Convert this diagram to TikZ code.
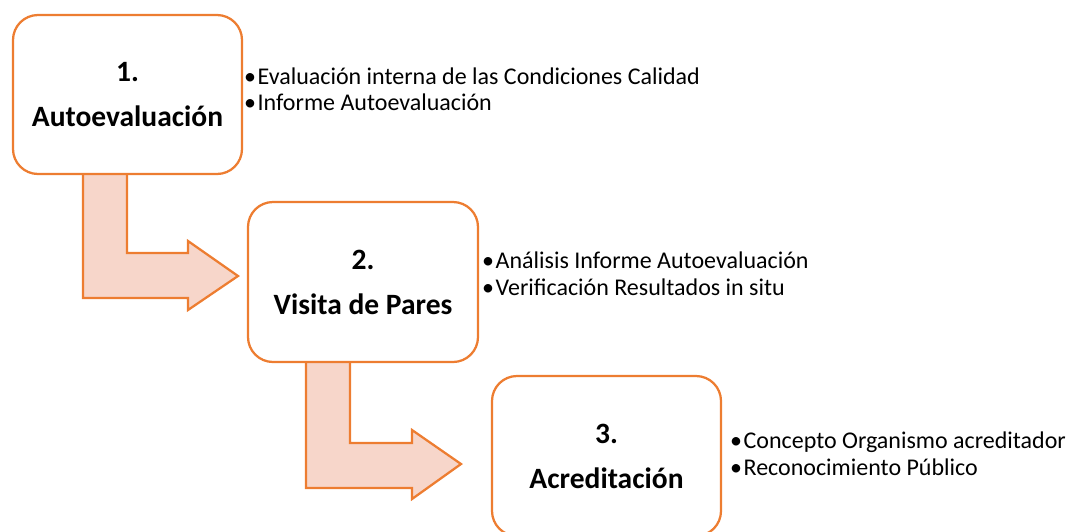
\documentclass[tikz,border=0pt]{standalone}
\usepackage{fontspec}
\setmainfont{Carlito}
\definecolor{acc}{RGB}{237,125,49}
\definecolor{arrfill}{RGB}{247,214,202}
\newcommand{\bul}{•\hspace{1.5pt}}
\begin{document}
\begin{tikzpicture}[x=1pt,y=-1pt,
  stepbox/.style={draw=acc, line width=2.25pt, fill=white, rounded corners=25pt,
    align=center, font=\fontsize{29.5}{45}\selectfont\bfseries, inner sep=0pt},
  bentarrow/.style={draw=acc, line width=2.25pt, fill=arrfill, line join=miter},
  bulletline/.style={anchor=base west, inner sep=0pt, font=\fontsize{24}{26}\selectfont}]
\useasboundingbox (0,0) rectangle (1068,531);
\clip (0,0) rectangle (1068,531);
% bent arrows
\draw[bentarrow] (83,170) -- (127,170) -- (127,253) -- (188,253) -- (188,241) -- (238,276)
  -- (188,310) -- (188,298) -- (83,298) -- cycle;
\draw[bentarrow] (306,358) -- (350,358) -- (350,443) -- (412,443) -- (412,430) -- (461,464)
  -- (412,499) -- (412,488) -- (306,488) -- cycle;
% boxes
\node[stepbox, minimum width=229pt, minimum height=159pt] (b1) at (127.5,94.5) {1.\\Autoevaluación};
\node[stepbox, minimum width=230pt, minimum height=160pt] (b2) at (363,282) {2.\\Visita de Pares};
\node[stepbox, minimum width=229pt, minimum height=160pt] (b3) at (606.5,456) {3.\\Acreditación};
% bullets
\node[bulletline] (t11) at (244,84) {\bul Evaluación interna de las Condiciones Calidad};
\node[bulletline] (t12) at (244,110) {\bul Informe Autoevaluación};
\node[bulletline] (t21) at (482,268) {\bul Análisis Informe Autoevaluación};
\node[bulletline] (t22) at (482,295) {\bul Verificación Resultados in situ};
\node[bulletline] (t31) at (730,448) {\bul Concepto Organismo acreditador};
\node[bulletline] (t32) at (730,475) {\bul Reconocimiento Público};
\end{tikzpicture}
\end{document}
